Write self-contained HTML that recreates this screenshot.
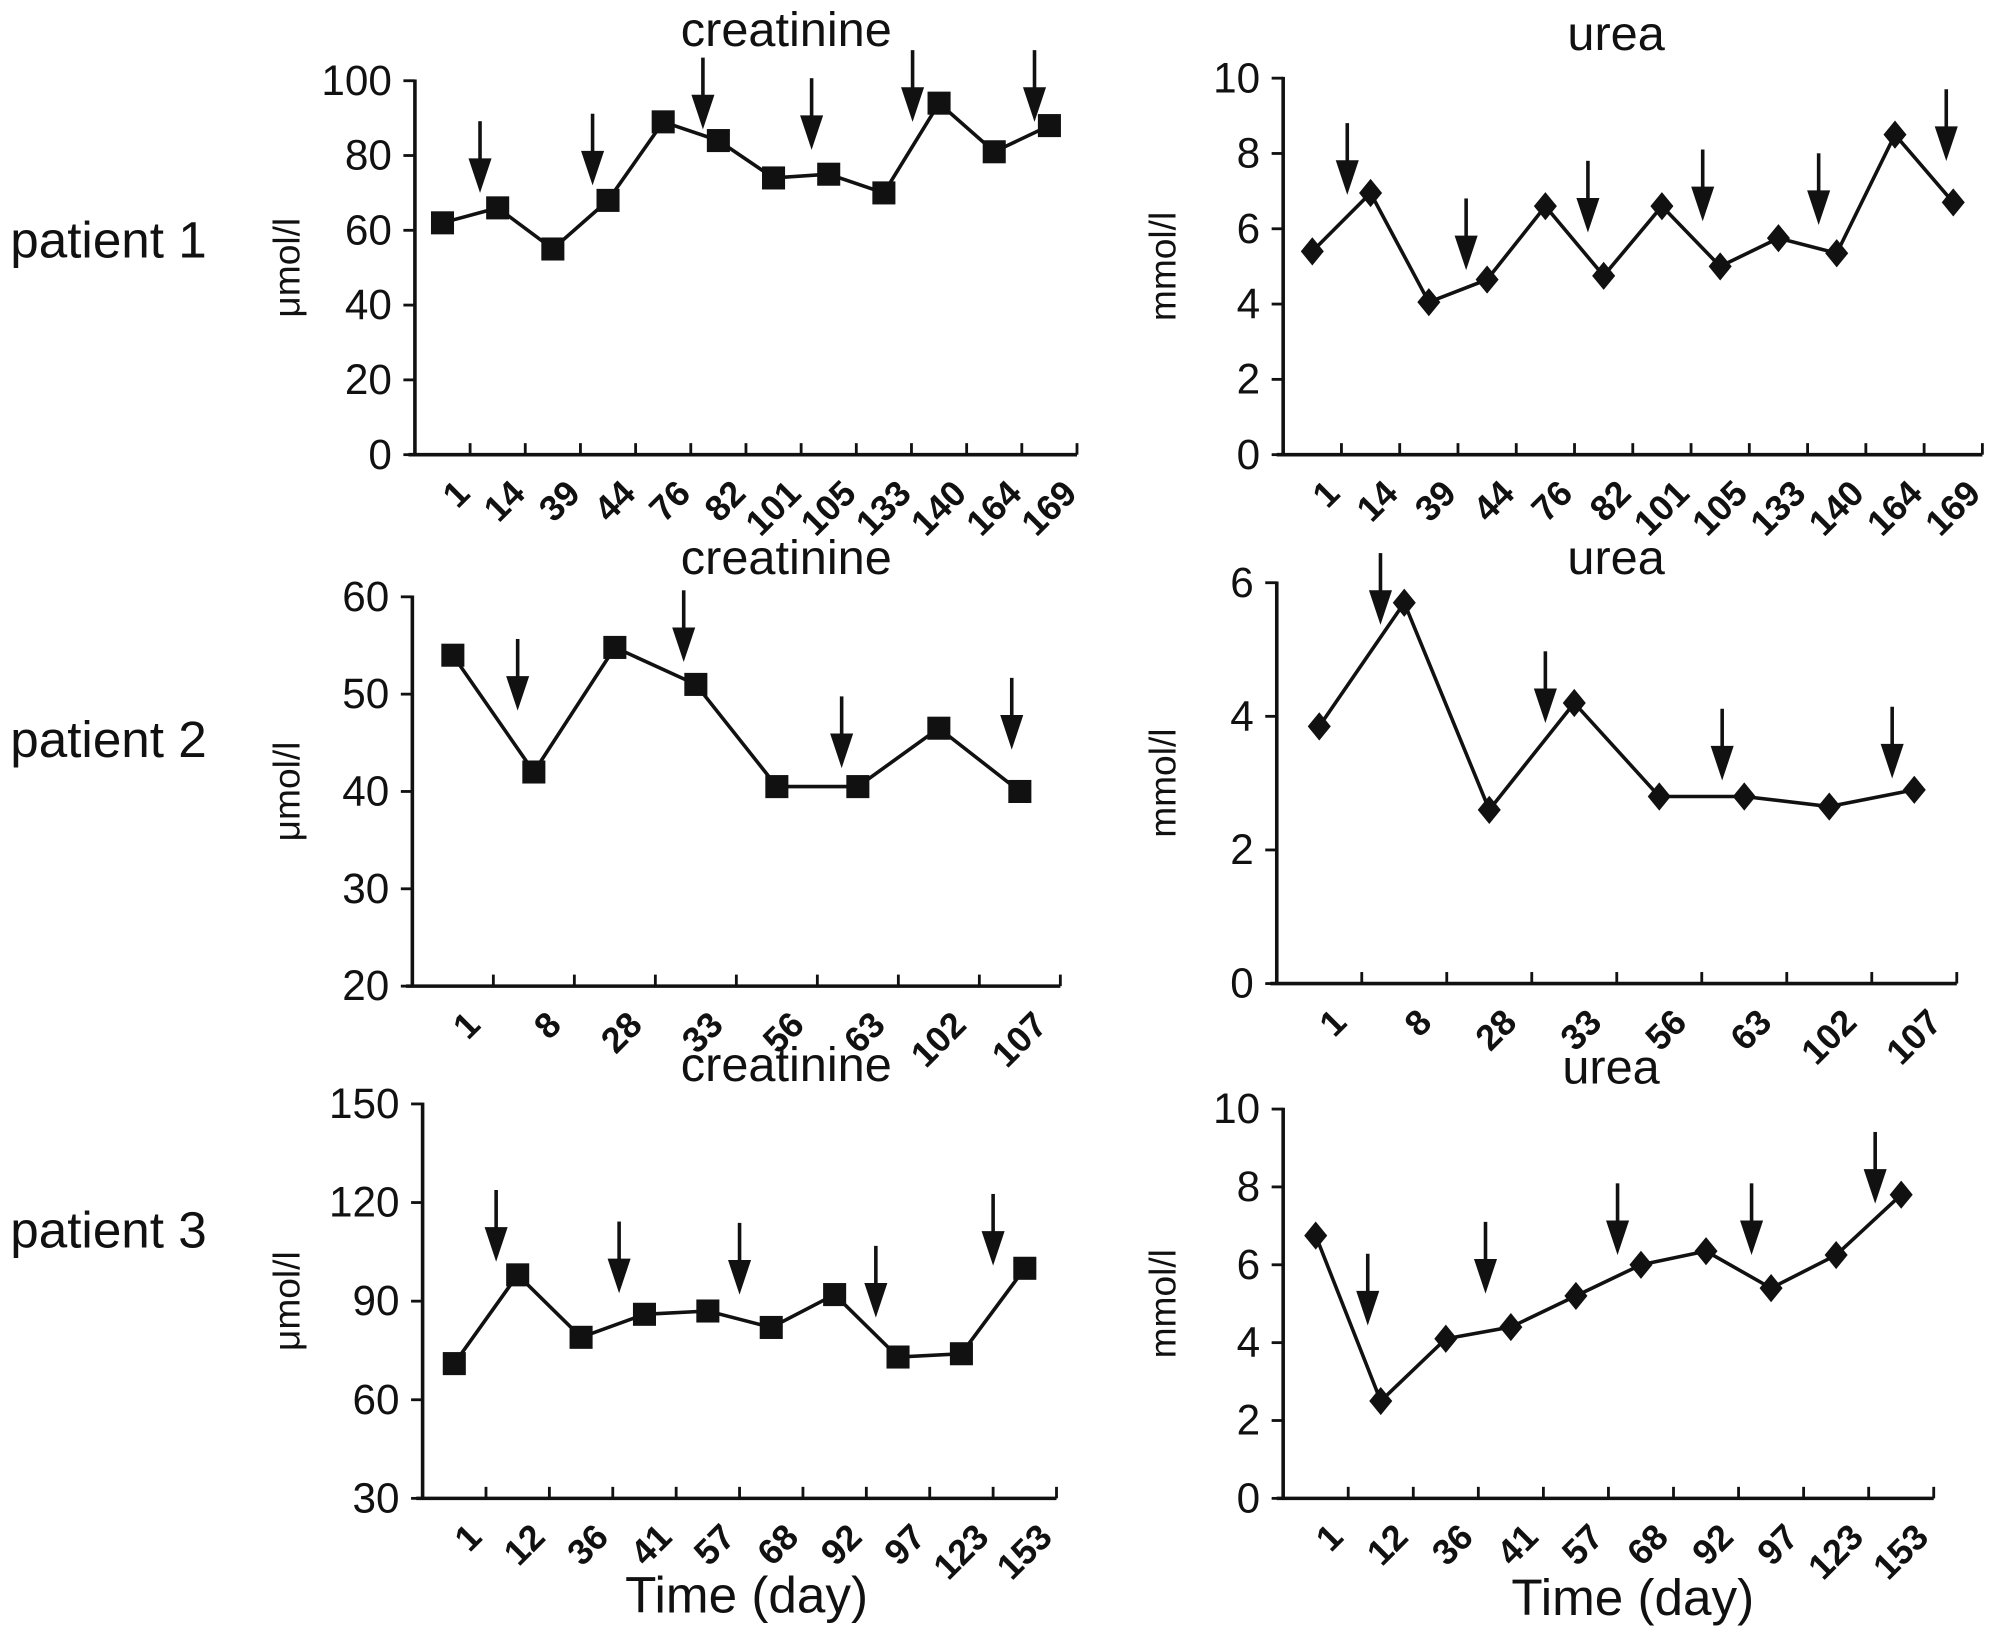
<!DOCTYPE html>
<html><head><meta charset="utf-8"><style>
html,body{margin:0;padding:0;background:#fff;}
svg{display:block;}
text{font-family:"Liberation Sans",sans-serif;fill:#111;}
</style></head><body>
<svg id="fig" width="2008" height="1638" viewBox="0 0 1568 1279" xmlns="http://www.w3.org/2000/svg"></svg>
<script>
// ---- data ----
const p1Days = ["1","14","39","44","76","82","101","105","133","140","164","169"];
const p1Crea = [62,66,55,68,89,84,74,75,70,94,81,88];
const p1CreaArrowPos = [1.18,3.22,5.22,7.19,9.02,11.23];
const p1CreaArrowTip = [70,72,87,81.5,89,89];
const p1Urea = [5.4,6.95,4.05,4.65,6.6,4.75,6.6,5.0,5.75,5.35,8.5,6.7];
const p1UreaArrowPos = [1.1,3.14,5.23,7.2,9.19,11.38];
const p1UreaArrowTip = [6.9,4.9,5.9,6.2,6.1,7.8];

const p2Days = ["1","8","28","33","56","63","102","107"];
const p2Crea = [54,42,54.8,51,40.5,40.5,46.5,40];
const p2CreaArrowPos = [1.3,3.35,5.3,7.4];
const p2CreaArrowTip = [48.3,53.3,42.4,44.3];
const p2Urea = [3.85,5.7,2.6,4.2,2.8,2.8,2.65,2.9];
const p2UreaArrowPos = [1.22,3.16,5.24,7.24];
const p2UreaArrowTip = [5.37,3.9,3.04,3.07];

const p3Days = ["1","12","36","41","57","68","92","97","123","153"];
const p3Crea = [71,98,79,86,87,82,92,73,74,100];
const p3CreaArrowPos = [1.16,3.1,5.0,7.15,9.0];
const p3CreaArrowTip = [102,92.4,92,85,100.8];
const p3Urea = [6.75,2.5,4.1,4.4,5.2,6.0,6.35,5.4,6.25,7.8];
const p3UreaArrowPos = [1.3,3.11,5.14,7.2,9.1];
const p3UreaArrowTip = [4.44,5.26,6.25,6.25,7.57];

const creaTicksP1 = [0,20,40,60,80,100];
const ureaTicksP1 = [0,2,4,6,8,10];
const creaTicksP2 = [20,30,40,50,60];
const ureaTicksP2 = [0,2,4,6];
const creaTicksP3 = [30,60,90,120,150];
const ureaTicksP3 = [0,2,4,6,8,10];

const NS = "http://www.w3.org/2000/svg";
const svg = document.getElementById('fig');
function mk(tag, attrs, parent){
  const e = document.createElementNS(NS, tag);
  for (const k in attrs) e.setAttribute(k, attrs[k]);
  (parent||svg).appendChild(e);
  return e;
}

function chart(o){
  const g = mk('g', {});
  
  
  const n = o.cats.length;
  const step = o.width / n;
  const ymin = o.ticks[0], ymax = o.ticks[o.ticks.length-1];
  const xs = i => o.x0 + (i + 0.5) * step;
  const xb = f => o.x0 + f * step;
  const ys = v => o.yBot - (v - ymin) / (ymax - ymin) * (o.yBot - o.yTop);
  const ya = mk('line', {x1:o.x0, y1:o.yTop-1, x2:o.x0, y2:o.yBot, stroke:'#111','stroke-width':2.8}, g);
  
  
  const xa = mk('line', {x1:o.x0-5, y1:o.yBot, x2:o.x0+o.width, y2:o.yBot, stroke:'#111','stroke-width':2.8}, g);
  
  
  o.ticks.forEach(t => {
    const y = ys(t);
    mk('line', {x1:o.x0-9, y1:y, x2:o.x0, y2:y, stroke:'#111','stroke-width':2.2}, g);
    const tx = mk('text', {x:o.x0-18, y:y+11, 'text-anchor':'end','font-size':33}, g);
    tx.textContent = t;
    
    
  });
  for (let i=1;i<=n;i++){
    mk('line', {x1:xb(i), y1:o.yBot, x2:xb(i), y2:o.yBot-9, stroke:'#111','stroke-width':2.2}, g);
  }
  o.cats.forEach((c,i) => {
    const x = xs(i)+9, y = o.yBot+18;
    const tx = mk('text', {x:x, y:y, 'text-anchor':'end','font-size':28,'font-weight':'bold', transform:`rotate(-45 ${x} ${y})`, dy:'0.7em'}, g);
    tx.textContent = c;
    
    
  });
  const pts = o.values.map((v,i)=>xs(i)+','+ys(v)).join(' ');
  const pl = mk('polyline', {points:pts, fill:'none', stroke:'#111','stroke-width':2.8}, g);
  
  
  o.values.forEach((v,i) => {
    const x = xs(i), y = ys(v);
    let m;
    if (o.marker === 'square') {
      m = mk('rect', {x:x-9, y:y-9, width:18, height:18, fill:'#111'}, g);
    } else {
      m = mk('polygon', {points:`${x},${y-11} ${x+9},${y} ${x},${y+11} ${x-9},${y}`, fill:'#111'}, g);
    }
    
    
  });
  o.arrowPos.forEach((f,i) => {
    const x = xb(f), tip = ys(o.arrowTip[i]);
    const a = mk('g', {}, g);
    
    
    mk('line', {x1:x, y1:tip-56, x2:x, y2:tip-12, stroke:'#111','stroke-width':2.8}, a);
    mk('polygon', {points:`${x-9},${tip-27} ${x+9},${tip-27} ${x},${tip}`, fill:'#111'}, a);
  });
  const tt = mk('text', {x:o.titleX, y:o.titleY, 'text-anchor':'middle','font-size':38}, g);
  tt.textContent = o.title;
  
  
  const yl = mk('text', {x:o.ylX, y:(o.yTop+o.yBot)/2, 'text-anchor':'middle','font-size':29, transform:`rotate(-90 ${o.ylX} ${(o.yTop+o.yBot)/2})`}, g);
  yl.textContent = o.ylabel;
  
  
}

chart({name:'p1-creatinine-chart', cats:p1Days, values:p1Crea, ticks:creaTicksP1, marker:'square', x0:324, width:517, yTop:63, yBot:355, arrowPos:p1CreaArrowPos, arrowTip:p1CreaArrowTip, title:'creatinine', titleX:614, titleY:36, ylabel:'μmol/l', ylX:234});
chart({name:'p1-urea-chart', cats:p1Days, values:p1Urea, ticks:ureaTicksP1, marker:'diamond', x0:1002, width:546, yTop:61, yBot:355, arrowPos:p1UreaArrowPos, arrowTip:p1UreaArrowTip, title:'urea', titleX:1262, titleY:39, ylabel:'mmol/l', ylX:918});
chart({name:'p2-creatinine-chart', cats:p2Days, values:p2Crea, ticks:creaTicksP2, marker:'square', x0:322, width:506, yTop:466, yBot:770, arrowPos:p2CreaArrowPos, arrowTip:p2CreaArrowTip, title:'creatinine', titleX:614, titleY:448, ylabel:'μmol/l', ylX:234});
chart({name:'p2-urea-chart', cats:p2Days, values:p2Urea, ticks:ureaTicksP2, marker:'diamond', x0:997, width:531, yTop:455, yBot:768, arrowPos:p2UreaArrowPos, arrowTip:p2UreaArrowTip, title:'urea', titleX:1262, titleY:448, ylabel:'mmol/l', ylX:918});
chart({name:'p3-creatinine-chart', cats:p3Days, values:p3Crea, ticks:creaTicksP3, marker:'square', x0:330, width:495, yTop:862, yBot:1170, arrowPos:p3CreaArrowPos, arrowTip:p3CreaArrowTip, title:'creatinine', titleX:614, titleY:844, ylabel:'μmol/l', ylX:234});
chart({name:'p3-urea-chart', cats:p3Days, values:p3Urea, ticks:ureaTicksP3, marker:'diamond', x0:1002, width:508, yTop:866, yBot:1170, arrowPos:p3UreaArrowPos, arrowTip:p3UreaArrowTip, title:'urea', titleX:1258, titleY:846, ylabel:'mmol/l', ylX:918});

[['patient 1',201],['patient 2',591],['patient 3',974]].forEach(([t,y]) => {
  const e = mk('text', {x:8, y:y, 'font-size':40});
  e.textContent = t;
  
  
});
[[583,1259],[1275,1261]].forEach(([x,y]) => {
  const e = mk('text', {x:x, y:y, 'text-anchor':'middle','font-size':40});
  e.textContent = 'Time (day)';
  
  
});
</script>
</body></html>
